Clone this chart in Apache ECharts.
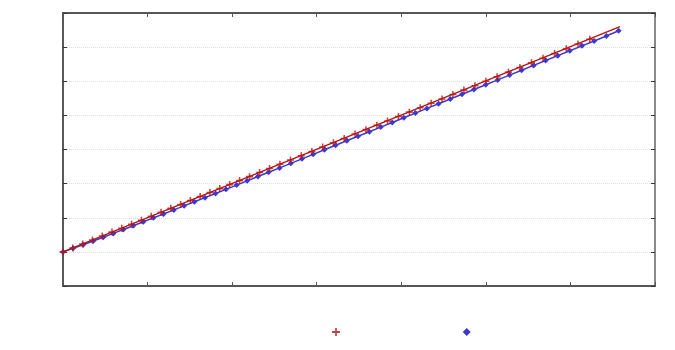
<!DOCTYPE html>
<html>
<head>
<meta charset="utf-8">
<script src="https://cdn.jsdelivr.net/npm/echarts@6/dist/echarts.min.js"></script>
<style>
html, body { margin: 0; padding: 0; background: #fff; }
#main { width: 675px; height: 350px; }
</style>
</head>
<body>
<div id="main"></div>
<script>
// red points (crosses)
var redX = [0, 0.116, 0.232, 0.348, 0.464, 0.579, 0.695, 0.811, 0.927, 1.043, 1.159, 1.275, 1.391, 1.506, 1.622, 1.738, 1.854, 1.971, 2.088, 2.205, 2.324, 2.442, 2.565, 2.690, 2.817, 2.943, 3.070, 3.197, 3.325, 3.453, 3.582, 3.711, 3.837, 3.966, 4.095, 4.224, 4.353, 4.482, 4.610, 4.740, 4.871, 5.001, 5.133, 5.267, 5.403, 5.539, 5.676, 5.813, 5.951, 6.090, 6.229];
var redY = [1, 1.116, 1.232, 1.348, 1.464, 1.579, 1.695, 1.811, 1.927, 2.043, 2.159, 2.275, 2.391, 2.506, 2.622, 2.738, 2.854, 2.971, 3.088, 3.205, 3.324, 3.442, 3.565, 3.690, 3.817, 3.943, 4.070, 4.197, 4.325, 4.453, 4.582, 4.711, 4.837, 4.966, 5.095, 5.224, 5.353, 5.482, 5.610, 5.740, 5.871, 6.001, 6.133, 6.267, 6.403, 6.539, 6.676, 6.813, 6.951, 7.090, 7.229];
// red straight line
var lineX = [0, 6.586];
var lineY = [1, 7.6];
// blue points (diamonds)
var blueX = [0, 0.119, 0.239, 0.358, 0.477, 0.595, 0.713, 0.831, 0.950, 1.069, 1.188, 1.310, 1.432, 1.555, 1.679, 1.803, 1.927, 2.053, 2.178, 2.305, 2.431, 2.561, 2.694, 2.826, 2.958, 3.091, 3.223, 3.356, 3.488, 3.622, 3.757, 3.893, 4.030, 4.167, 4.304, 4.441, 4.580, 4.718, 4.859, 4.999, 5.140, 5.281, 5.423, 5.565, 5.707, 5.850, 5.993, 6.137, 6.281, 6.425, 6.570];
var blueY = [1, 1.104, 1.210, 1.318, 1.429, 1.541, 1.654, 1.767, 1.882, 1.997, 2.112, 2.230, 2.348, 2.468, 2.589, 2.711, 2.833, 2.957, 3.081, 3.207, 3.332, 3.461, 3.594, 3.726, 3.858, 3.991, 4.123, 4.256, 4.388, 4.522, 4.657, 4.793, 4.930, 5.067, 5.204, 5.341, 5.480, 5.618, 5.759, 5.899, 6.040, 6.181, 6.323, 6.465, 6.607, 6.750, 6.893, 7.037, 7.181, 7.325, 7.480];

var RED = '#b81414';
var BLUE = '#3a3ad0';
var PLUS = 'path://M3.9,0H6.1V3.9H10V6.1H6.1V10H3.9V6.1H0V3.9H3.9Z';

function zip(xs, ys) {
    var out = [];
    for (var i = 0; i < xs.length; i++) out.push([xs[i], ys[i]]);
    return out;
}

function xAx(pos) {
    return {
        type: 'value', min: 0, max: 7, interval: 1, position: pos,
        axisLine: { show: true, onZero: false, lineStyle: { color: '#222', width: 1.5 } },
        axisLabel: { show: false },
        axisTick: { show: true, inside: true, length: 4, lineStyle: { color: '#555' } },
        splitLine: { show: false }
    };
}
function yAx(pos, grid) {
    return {
        type: 'value', min: 0, max: 8, interval: 1, position: pos,
        axisLine: { show: true, onZero: false, lineStyle: pos == 'left' ? { color: '#222', width: 1.5 } : { color: '#8a8a8a', width: 2 } },
        axisLabel: { show: false },
        axisTick: { show: true, inside: true, length: 4, lineStyle: { color: '#333' } },
        splitLine: { show: grid, lineStyle: { color: '#dedede', type: 'dotted', width: 1 } }
    };
}

var myChart = echarts.init(document.getElementById('main'));

var option = {
    backgroundColor: '#fff',
    animation: false,
    grid: { left: 63, right: 20, top: 13, bottom: 64 },
    legend: {
        left: 327,
        top: 322,
        itemWidth: 8,
        itemHeight: 8,
        itemGap: 115,
        formatter: function () { return ' '; },
        textStyle: { fontSize: 10 },
        data: [
            { name: 'red', icon: PLUS, itemStyle: { color: RED } },
            { name: 'blue', icon: 'diamond', itemStyle: { color: BLUE } }
        ]
    },
    xAxis: [xAx('bottom'), xAx('top')],
    yAxis: [yAx('left', true), yAx('right', false)],
    series: [
        {
            name: 'redline',
            type: 'line',
            data: zip(lineX, lineY),
            showSymbol: false,
            lineStyle: { color: RED, width: 1.5 },
            z: 3
        },
        {
            name: 'red',
            type: 'scatter',
            data: zip(redX, redY),
            symbol: PLUS,
            symbolSize: 7,
            itemStyle: { color: RED },
            z: 4
        },
        {
            name: 'blue',
            type: 'line',
            data: zip(blueX, blueY),
            symbol: 'diamond',
            symbolSize: 6,
            showAllSymbol: true,
            lineStyle: { color: BLUE, width: 1.5 },
            itemStyle: { color: BLUE },
            z: 2
        }
    ]
};

myChart.setOption(option);
</script>
</body>
</html>
